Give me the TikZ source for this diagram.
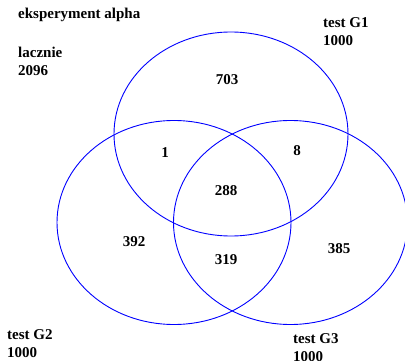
\documentclass[tikz,border=0pt]{standalone}
\usepackage{fontspec}
\setmainfont{Liberation Serif}
\usetikzlibrary{shapes.geometric}
\begin{document}
\begin{tikzpicture}[x=1pt,y=-1pt,
  setcircle/.style={draw=blue, line width=0.9pt, ellipse, inner sep=0pt,
    minimum width=234pt, minimum height=204pt},
  label/.style={inner sep=0pt, align=left, anchor=base west,
    font=\fontsize{15}{18}\selectfont\bfseries},
  count/.style={inner sep=0pt, font=\fontsize{15}{18}\selectfont\bfseries}]
  \useasboundingbox (0,0) rectangle (405,361);
  % the three sets
  \node[setcircle] (g1) at (231,134) {};
  \node[setcircle] (g2) at (174,222.5) {};
  \node[setcircle] (g3) at (290.5,222.5) {};
  % titles and totals (anchored on the baseline of the last line)
  \node[label] (title) at (18,19) {eksperyment alpha};
  \node[label] (total) at (18,76) {lacznie\\2096};
  \node[label] (lg1) at (323,46) {test G1\\1000};
  \node[label] (lg2) at (7,357) {test G2\\1000};
  \node[label] (lg3) at (293,361) {test G3\\1000};
  % region counts
  \node[count] (c1) at (227,80) {703};
  \node[count] (c12) at (165,153) {1};
  \node[count] (c13) at (297,151) {8};
  \node[count] (c123) at (226,191) {288};
  \node[count] (c2) at (134,242) {392};
  \node[count] (c23) at (226,260) {319};
  \node[count] (c3) at (339,249) {385};
\end{tikzpicture}
\end{document}
